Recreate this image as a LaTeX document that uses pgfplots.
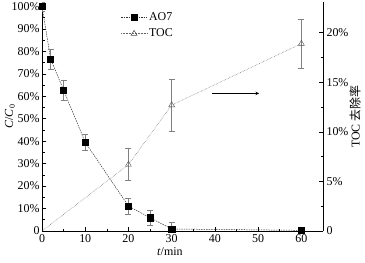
\documentclass[border=0pt]{standalone}
\usepackage{pgfplots}
\pgfplotsset{compat=1.18}
\usepackage{fontspec}
\setmainfont{Liberation Serif}
\newfontfamily\cjk{Noto Sans CJK SC}
\begin{document}
\begin{tikzpicture}[font=\fontsize{12}{14}\selectfont]
\pgfplotsset{
  common/.style={
    scale only axis, width=281bp, height=229bp,
    xmin=0, xmax=65,
    tick align=inside,
    major tick length=4bp, minor tick length=2.5bp,
    tick style={black, line width=0.6pt},
    axis line style={line width=0.8pt},
    /pgf/number format/assume math mode=true,
  }
}
\begin{axis}[common, name=ax,
  ymin=0, ymax=102,
  axis x line*=bottom, axis y line*=left,
  xtick={0,10,...,60}, minor x tick num=1,
  ytick={0,10,...,100},
  yticklabels={0,10\%,20\%,30\%,40\%,50\%,60\%,70\%,80\%,90\%,100\%},
  minor y tick num=1,
  yticklabel style={xshift=1bp},
  xlabel={\textit{t}/min},
  xlabel style={at={(axis description cs:0.455,-0.092)}, anchor=center},
  ylabel={\textit{C}/\textit{C}\textsubscript{0}},
  ylabel style={at={(axis description cs:-0.114,0.5)}, anchor=center},
  legend style={draw=none, fill=none, at={(axis description cs:0.27,0.972)}, anchor=north west, row sep=3pt, font=\fontsize{12}{14}\selectfont},
  legend cell align=left,
  legend image code/.code={
    \draw[mark repeat=2,mark phase=2,#1] plot coordinates {(0cm,0cm) (0.45cm,0cm) (0.9cm,0cm)};
  },
]
\addplot[black!80, line width=0.5pt, dash pattern=on 1.5pt off 1pt,
  mark=square*, mark size=3.1bp, mark options={solid, fill=black, draw=black},
  error bars/.cd, y dir=both, y explicit,
  error bar style={gray, line width=0.6pt, solid},
  error mark options={rotate=90, mark size=3bp, gray, solid, line width=0.6pt}]
  table[x=t, y=c, y error=e] {
  t c e
  0 100 2
  2 76.6 4.4
  5 62.7 4.3
  10 39.5 3.6
  20 11.1 3.5
  25 5.9 3.3
  30 0.9 3.0
  60 0.3 1.0
  };
\addlegendentry{AO7}
\addlegendimage{black!60, line width=0.5pt, densely dotted, mark=triangle, mark size=3.4bp, mark options={solid, fill=white, draw=black!70}}
\addlegendentry{TOC}
\draw[-stealth, line width=0.6pt] (axis cs:39.4,61.3) -- (axis cs:50.2,61.3);
\end{axis}
\begin{axis}[common,
  ymin=0, ymax=23.1,
  axis x line=none, axis y line*=right,
  ytick={0,5,10,15,20},
  yticklabels={0,5\%,10\%,15\%,20\%},
  minor y tick num=1,
  ylabel={TOC {\cjk 去除率}},
  ylabel style={at={(axis description cs:1.114,0.5)}, anchor=center},
]
\addplot[black!60, line width=0.5pt, densely dotted] table[x=t, y=r] {
  t r
  0 0
  20 6.7
  30 12.7
  60 18.9
  };
\addplot[only marks, mark=triangle, mark size=3.4bp, mark options={solid, fill=white, draw=black!70},
  error bars/.cd, y dir=both, y explicit,
  error bar style={gray, line width=0.6pt, solid},
  error mark options={rotate=90, mark size=3bp, gray, solid, line width=0.6pt}]
  table[x=t, y=r, y error=e] {
  t r e
  20 6.7 1.6
  30 12.7 2.6
  60 18.9 2.5
  };
\end{axis}
\pgfresetboundingbox
\path[use as bounding box] ([xshift=-42bp,yshift=-31bp]ax.south west) rectangle ([xshift=42bp,yshift=2bp]ax.north east);
\end{tikzpicture}
\end{document}
